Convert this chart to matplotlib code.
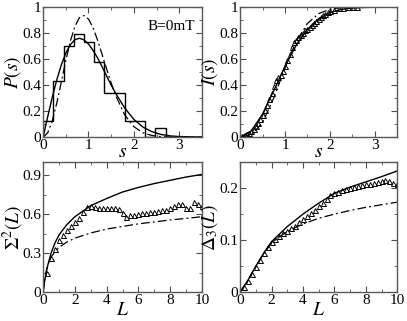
import matplotlib
matplotlib.use("Agg")
import matplotlib.pyplot as plt
from matplotlib.ticker import MultipleLocator, FormatStrFormatter

plt.rcParams['font.family'] = ['Liberation Serif', 'DejaVu Serif']
plt.rcParams['mathtext.fontset'] = 'stix'

# P(s) histogram (bin edges and heights)
hist_edges = [0, 0.225, 0.45, 0.675, 0.9, 1.125, 1.35, 1.575, 1.8, 2.025, 2.25, 2.475, 2.7]
hist_vals = [0.12, 0.43, 0.70, 0.79, 0.735, 0.58, 0.34, 0.34, 0.12, 0.12, 0.0, 0.07]

# P(s) curves
s_curve = [0, 0.1, 0.2, 0.3, 0.4, 0.5, 0.6, 0.7, 0.8, 0.9, 1.0, 1.1, 1.2, 1.3, 1.4, 1.5, 1.6, 1.8, 2.0, 2.2, 2.4, 2.6, 2.8, 3.0, 3.5]
p_solid = [0, 0.156, 0.304, 0.439, 0.554, 0.646, 0.711, 0.749, 0.760, 0.748, 0.716, 0.667, 0.609, 0.541, 0.470, 0.400, 0.336, 0.223, 0.136, 0.077, 0.041, 0.020, 0.009, 0.004, 0.0]
p_dashdot = [0, 0.032, 0.123, 0.260, 0.423, 0.589, 0.738, 0.851, 0.919, 0.935, 0.908, 0.841, 0.746, 0.636, 0.524, 0.416, 0.319, 0.170, 0.080, 0.033, 0.012, 0.003, 0.001, 0.0, 0.0]

# I(s) data
s_data = [0.05, 0.1, 0.15, 0.2, 0.25, 0.3, 0.35, 0.4, 0.45, 0.5, 0.55, 0.6, 0.65, 0.7, 0.75, 0.8, 0.85, 0.9, 0.95, 1.0,
          1.05, 1.1, 1.15, 1.2, 1.25, 1.3, 1.35, 1.4, 1.45, 1.5, 1.55, 1.6, 1.65, 1.7, 1.75, 1.8, 1.85, 1.9, 1.95, 2.0,
          2.1, 2.2, 2.3, 2.4, 2.5, 2.6]
i_data = [0.005, 0.015, 0.025, 0.035, 0.05, 0.065, 0.085, 0.11, 0.14, 0.17, 0.21, 0.25, 0.29, 0.34, 0.39, 0.44, 0.46, 0.48, 0.51, 0.55,
          0.59, 0.64, 0.69, 0.73, 0.75, 0.77, 0.785, 0.80, 0.82, 0.835, 0.85, 0.865, 0.88, 0.895, 0.91, 0.925, 0.94, 0.95, 0.96, 0.97,
          0.98, 0.99, 0.995, 1.0, 1.0, 1.0]
s_icurve = [0, 0.25, 0.5, 0.75, 1.0, 1.25, 1.5, 1.75, 2.0, 2.25, 2.5, 2.75, 3.0, 3.5]
i_solid = [0, 0.048, 0.178, 0.357, 0.544, 0.707, 0.829, 0.910, 0.957, 0.981, 0.993, 0.997, 0.999, 1.0]
i_dashdot = [0, 0.016, 0.112, 0.301, 0.533, 0.736, 0.874, 0.950, 0.983, 0.996, 0.999, 1.0, 1.0, 1.0]

# Sigma^2(L) and Delta_3(L) data
L_data = [0.25, 0.5, 0.75, 1.0, 1.25, 1.5, 1.75, 2.0, 2.25, 2.5, 2.75, 3.0, 3.25, 3.5, 3.75, 4.0, 4.25, 4.5, 4.75, 5.0,
          5.25, 5.5, 5.75, 6.0, 6.25, 6.5, 6.75, 7.0, 7.25, 7.5, 7.75, 8.0, 8.25, 8.5, 8.75, 9.0, 9.25, 9.5, 9.75, 10.0]
sig_data = [0.15, 0.26, 0.33, 0.40, 0.44, 0.48, 0.51, 0.54, 0.57, 0.62, 0.655, 0.665, 0.655, 0.65, 0.65, 0.65, 0.65, 0.645, 0.64, 0.61,
            0.58, 0.59, 0.595, 0.60, 0.605, 0.61, 0.615, 0.62, 0.625, 0.63, 0.635, 0.645, 0.66, 0.68, 0.675, 0.645, 0.65, 0.69, 0.68, 0.665]
del_data = [0.01, 0.022, 0.035, 0.048, 0.062, 0.075, 0.086, 0.096, 0.102, 0.108, 0.113, 0.118, 0.123, 0.128, 0.134, 0.14, 0.146, 0.152, 0.158, 0.165,
            0.172, 0.18, 0.186, 0.19, 0.193, 0.196, 0.198, 0.2, 0.202, 0.204, 0.206, 0.207, 0.208, 0.21, 0.212, 0.214, 0.216, 0.213, 0.21, 0.208]

L_sig = [0, 0.05, 0.1, 0.2, 0.3, 0.5, 0.75, 1, 1.5, 2, 3, 4, 5, 6, 7, 8, 9, 10]
sig_solid = [0, 0.05, 0.09, 0.16, 0.21, 0.30, 0.38, 0.44, 0.52, 0.58, 0.665, 0.72, 0.77, 0.805, 0.835, 0.86, 0.885, 0.905]
sig_dashdot = [0, 0.05, 0.09, 0.16, 0.21, 0.27, 0.31, 0.345, 0.385, 0.415, 0.455, 0.485, 0.505, 0.525, 0.54, 0.555, 0.567, 0.58]

L_del = [0, 0.5, 1, 1.5, 2, 3, 4, 5, 6, 7, 8, 9, 10]
del_solid = [0, 0.023, 0.05, 0.075, 0.097, 0.126, 0.15, 0.171, 0.19, 0.202, 0.212, 0.222, 0.233]
del_dashdot = [0, 0.023, 0.05, 0.073, 0.095, 0.117, 0.131, 0.142, 0.150, 0.157, 0.163, 0.168, 0.173]

DASHDOT = (0, (7, 2.5, 1.5, 2.5))
TICK_FS = 11
LAB_FS = 14

def style(ax, xmaj, xmin, ymaj, ymin, xlim, ylim):
    ax.set_xlim(*xlim); ax.set_ylim(*ylim)
    ax.xaxis.set_major_locator(MultipleLocator(xmaj))
    ax.xaxis.set_minor_locator(MultipleLocator(xmin))
    ax.yaxis.set_major_locator(MultipleLocator(ymaj))
    ax.yaxis.set_minor_locator(MultipleLocator(ymin))
    ax.xaxis.set_major_formatter(FormatStrFormatter('%g'))
    ax.yaxis.set_major_formatter(FormatStrFormatter('%g'))
    ax.tick_params(which='both', direction='in', top=True, right=True, labelsize=TICK_FS, pad=1.5, colors='0.3', labelcolor='black')
    ax.tick_params(which='major', length=4, width=0.8)
    ax.tick_params(which='minor', length=2, width=0.6)
    for sp in ax.spines.values():
        sp.set_color('0.35'); sp.set_linewidth(1.0)

def markers(ax, x, y):
    ax.plot(x, y, ls='none', marker='^', ms=3.6, mfc='none', mec='black', mew=0.7)

fig = plt.figure(figsize=(4.07, 3.21), dpi=100)
ax1 = fig.add_axes([0.106, 0.573, 0.390, 0.405])
ax2 = fig.add_axes([0.590, 0.573, 0.386, 0.405])
ax3 = fig.add_axes([0.106, 0.090, 0.390, 0.405])
ax4 = fig.add_axes([0.590, 0.090, 0.386, 0.405])

# P(s)
ax1.stairs(hist_vals, hist_edges, color='black', lw=1.0, baseline=0)
ax1.plot(s_curve, p_solid, color='black', lw=1.0)
ax1.plot(s_curve, p_dashdot, color='black', lw=0.9, ls=DASHDOT)
ax1.text(3.35, 0.85, 'B=0mT', ha='right', va='center', fontsize=11)
style(ax1, 1, 0.5, 0.2, 0.1, (0, 3.5), (0, 1))
ax1.set_ylabel('$P(s)$', fontsize=LAB_FS, labelpad=-1)
ax1.set_xlabel('$s$', fontsize=LAB_FS, labelpad=-6)

# I(s)
ax2.plot(s_icurve, i_solid, color='black', lw=1.0)
ax2.plot(s_icurve, i_dashdot, color='black', lw=0.9, ls=DASHDOT)
markers(ax2, s_data, i_data)
style(ax2, 1, 0.5, 0.2, 0.1, (0, 3.5), (0, 1))
ax2.set_ylabel('$I(s)$', fontsize=LAB_FS, labelpad=-1)
ax2.set_xlabel('$s$', fontsize=LAB_FS, labelpad=-6)

# Sigma^2(L)
ax3.plot(L_sig, sig_solid, color='black', lw=1.0)
ax3.plot(L_sig, sig_dashdot, color='black', lw=0.9, ls=DASHDOT)
markers(ax3, L_data, sig_data)
style(ax3, 2, 1, 0.3, 0.15, (0, 10), (0, 1.0))
ax3.set_ylabel(r'$\Sigma^2(L)$', fontsize=LAB_FS, labelpad=-3)
ax3.set_xlabel('$L$', fontsize=LAB_FS, labelpad=-4)

# Delta_3(L)
ax4.plot(L_del, del_solid, color='black', lw=1.0)
ax4.plot(L_del, del_dashdot, color='black', lw=0.9, ls=DASHDOT)
markers(ax4, L_data, del_data)
style(ax4, 2, 1, 0.1, 0.05, (0, 10), (0, 0.25))
ax4.set_ylabel(r'$\Delta_3(L)$', fontsize=LAB_FS, labelpad=-1)
ax4.set_xlabel('$L$', fontsize=LAB_FS, labelpad=-4)

fig.savefig('out.png', dpi=100)
